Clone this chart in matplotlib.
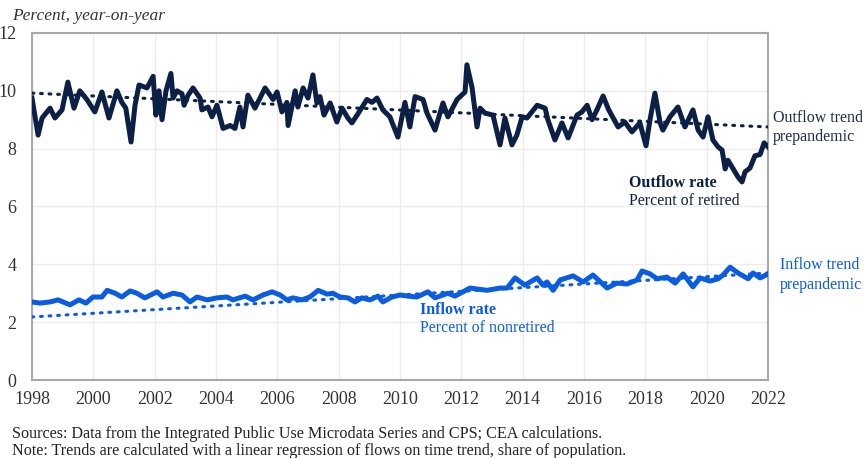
import numpy as np
import matplotlib.pyplot as plt

plt.rcParams['font.family'] = ['Liberation Serif', 'DejaVu Serif']

# outflow rate, percent of retired (decimal year, value)
out_t = [1998.0, 1998.2, 1998.33, 1998.59, 1998.75, 1998.98, 1999.17, 1999.37, 1999.56, 1999.79,
         2000.05, 2000.28, 2000.51, 2000.77, 2000.93, 2001.06, 2001.23, 2001.36, 2001.49, 2001.75,
         2001.95, 2002.04, 2002.14, 2002.24, 2002.37, 2002.53, 2002.6, 2002.73, 2002.89, 2002.96,
         2003.09, 2003.25, 2003.48, 2003.54, 2003.74, 2003.87, 2004.03, 2004.23, 2004.46, 2004.62,
         2004.78, 2004.88, 2005.04, 2005.27, 2005.6, 2005.86, 2005.99, 2006.15, 2006.31, 2006.35,
         2006.58, 2006.67, 2006.84, 2007.0, 2007.16, 2007.29, 2007.39, 2007.52, 2007.72, 2007.94,
         2008.11, 2008.3, 2008.43, 2008.6, 2008.92, 2009.09, 2009.25, 2009.44, 2009.67, 2009.93,
         2010.16, 2010.32, 2010.49, 2010.75, 2010.88, 2011.14, 2011.4, 2011.56, 2011.86, 2012.12,
         2012.18, 2012.35, 2012.51, 2012.61, 2012.77, 2013.03, 2013.26, 2013.42, 2013.65, 2013.81,
         2013.98, 2014.14, 2014.47, 2014.73, 2014.82, 2015.05, 2015.28, 2015.48, 2015.77, 2015.93,
         2016.1, 2016.26, 2016.42, 2016.62, 2016.8, 2017.11, 2017.33, 2017.56, 2017.82, 2018.02,
         2018.15, 2018.31, 2018.48, 2018.57, 2018.8, 2019.06, 2019.29, 2019.55, 2019.72, 2019.88,
         2020.04, 2020.2, 2020.37, 2020.5, 2020.6, 2020.69, 2020.86, 2021.02, 2021.15, 2021.25,
         2021.41, 2021.57, 2021.74, 2021.87, 2022.0]
out_v = [9.75, 8.47, 9.06, 9.4, 9.06, 9.34, 10.3, 9.4, 10.0, 9.7,
         9.27, 9.96, 9.06, 10.0, 9.6, 9.4, 8.23, 9.5, 10.2, 10.1,
         10.5, 9.16, 10.0, 9.0, 10.0, 10.6, 9.75, 10.0, 9.9, 9.5,
         9.85, 10.1, 9.75, 9.34, 9.44, 9.1, 9.5, 8.7, 8.8, 8.7,
         9.44, 8.75, 9.85, 9.4, 10.1, 9.7, 9.96, 9.27, 9.6, 8.8,
         10.0, 9.44, 10.1, 9.75, 10.55, 9.58, 9.8, 9.16, 9.58, 8.92,
         9.4, 9.06, 8.89, 9.16, 9.7, 9.6, 9.75, 9.34, 9.1, 8.4,
         9.6, 8.75, 9.8, 9.7, 9.23, 8.64, 9.58, 9.1, 9.7, 9.96,
         10.9, 10.1, 8.75, 9.4, 9.23, 9.16, 8.13, 9.06, 8.13, 8.47,
         9.1, 9.06, 9.5, 9.4, 9.0, 8.3, 8.89, 8.37, 9.16, 9.27,
         9.5, 9.0, 9.34, 9.82, 9.35, 8.75, 8.92, 8.58, 8.89, 8.1,
         9.0, 9.92, 8.89, 8.64, 9.1, 9.44, 8.75, 9.34, 8.64, 8.4,
         9.1, 8.3, 8.06, 7.95, 7.3, 7.6, 7.3, 7.02, 6.85, 7.2,
         7.33, 7.75, 7.8, 8.2, 8.06]

# inflow rate, percent of nonretired
in_t = [1998.0, 1998.26, 1998.59, 1998.85, 1999.24, 1999.53, 1999.76, 1999.99, 2000.28, 2000.45,
        2000.71, 2000.93, 2001.2, 2001.42, 2001.68, 2002.08, 2002.27, 2002.6, 2002.89, 2003.15,
        2003.38, 2003.71, 2004.03, 2004.36, 2004.55, 2004.95, 2005.21, 2005.53, 2005.83, 2006.09,
        2006.31, 2006.51, 2006.8, 2007.06, 2007.33, 2007.62, 2007.81, 2008.04, 2008.3, 2008.53,
        2008.76, 2009.02, 2009.28, 2009.44, 2009.74, 2010.0, 2010.26, 2010.55, 2010.91, 2011.14,
        2011.56, 2011.79, 2012.28, 2012.84, 2013.26, 2013.49, 2013.75, 2014.07, 2014.47, 2014.66,
        2014.79, 2014.99, 2015.22, 2015.64, 2015.97, 2016.29, 2016.75, 2017.07, 2017.4, 2017.73,
        2017.89, 2018.15, 2018.38, 2018.7, 2018.97, 2019.23, 2019.55, 2019.78, 2020.11, 2020.37,
        2020.53, 2020.76, 2021.02, 2021.35, 2021.51, 2021.74, 2022.0]
in_v = [2.7, 2.66, 2.7, 2.77, 2.6, 2.77, 2.66, 2.87, 2.87, 3.1,
        3.0, 2.87, 3.08, 3.0, 2.84, 3.05, 2.87, 3.0, 2.94, 2.7,
        2.87, 2.77, 2.84, 2.87, 2.77, 2.9, 2.77, 2.94, 3.05, 2.94,
        2.77, 2.84, 2.77, 2.87, 3.1, 2.97, 3.0, 2.87, 2.84, 2.7,
        2.84, 2.77, 2.9, 2.7, 2.87, 2.94, 2.9, 2.87, 3.05, 2.84,
        3.0, 2.9, 3.18, 3.1, 3.18, 3.18, 3.53, 3.28, 3.53, 3.28,
        3.39, 3.1, 3.46, 3.6, 3.39, 3.63, 3.18, 3.35, 3.32, 3.46,
        3.77, 3.67, 3.5, 3.56, 3.35, 3.67, 3.22, 3.53, 3.42, 3.5,
        3.63, 3.9, 3.7, 3.5, 3.7, 3.53, 3.67]

# prepandemic linear trends (endpoints)
trend_t = [1998, 2022]
out_trend = [9.92, 8.75]
in_trend = [2.18, 3.7]

navy = '#0c1f45'
blue = '#0a5ce0'

fig = plt.figure(figsize=(8.64, 4.58), dpi=100)
ax = fig.add_axes([0.037, 0.1703, 0.852, 0.7577])

ax.plot(trend_t, out_trend, color=navy, lw=2.2, linestyle=(0, (0.6, 2.2)),
        dash_capstyle='round', zorder=3)
ax.plot(trend_t, in_trend, color=blue, lw=2.2, linestyle=(0, (0.6, 2.2)),
        dash_capstyle='round', zorder=3)
ax.plot(out_t, out_v, color=navy, lw=3.6, solid_joinstyle='round', zorder=4)
ax.plot(in_t, in_v, color=blue, lw=3.6, solid_joinstyle='round', zorder=4)

ax.set_xlim(1998, 2022)
ax.set_ylim(0, 12)
ax.set_xticks(range(1998, 2023, 2))
ax.set_yticks(range(0, 13, 2))
ax.grid(True, color='#ececec', lw=1)
ax.set_axisbelow(True)
for s in ax.spines.values():
    s.set_color('#a8a8a8')
    s.set_linewidth(1.5)
ax.tick_params(length=0, labelsize=13, colors='#333333')
ax.tick_params(axis='x', pad=8)
ax.tick_params(axis='y', pad=11)

fig.text(0.014, 0.965, 'Percent, year-on-year', fontsize=12.5, style='italic',
         color='#333333', va='center')

ax.text(2017.47, 6.81, 'Outflow rate', fontsize=11.5, fontweight='bold', color=navy, va='center')
ax.text(2017.47, 6.2, 'Percent of retired', fontsize=11.5, color=navy, va='center')
ax.text(2010.65, 2.42, 'Inflow rate', fontsize=11.5, fontweight='bold', color=blue, va='center')
ax.text(2010.65, 1.8, 'Percent of nonretired', fontsize=11.5, color=blue, va='center')
ax.text(2022.15, 9.07, 'Outflow trend', fontsize=11.5, color='#1e2c4c', va='center', clip_on=False)
ax.text(2022.15, 8.4, 'prepandemic', fontsize=11.5, color='#1e2c4c', va='center', clip_on=False)
ax.text(2022.38, 3.97, 'Inflow trend', fontsize=11.5, color=blue, va='center', clip_on=False)
ax.text(2022.38, 3.28, 'prepandemic', fontsize=11.5, color=blue, va='center', clip_on=False)

fig.text(0.014, 0.053, 'Sources: Data from the Integrated Public Use Microdata Series and CPS; CEA calculations.',
         fontsize=11.6, color='#222222', va='center')
fig.text(0.014, 0.016, 'Note: Trends are calculated with a linear regression of flows on time trend, share of population.',
         fontsize=11.6, color='#222222', va='center')

fig.savefig('out.png', dpi=100)
